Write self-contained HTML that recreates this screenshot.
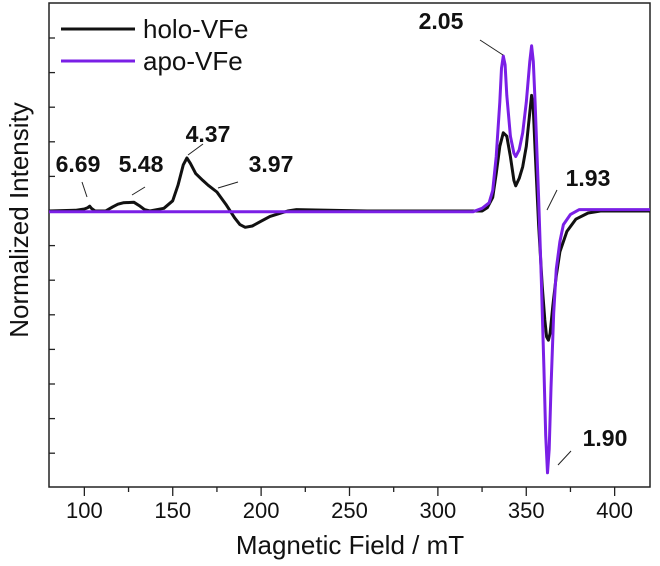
<!DOCTYPE html>
<html><head><meta charset="utf-8"><style>
body{margin:0;background:#fff;}
svg{display:block;font-family:"Liberation Sans",Arial,sans-serif;}
</style></head><body>
<svg id="chart" width="660" height="566">
<g id="axes"></g>
<g id="series"></g>
<g id="ann"></g>
</svg>
<script>
const xTicks=[100,150,200,250,300,350,400];
const holoB=[80,95,100,102,103,104,106,112,116,119,122,128,131,134,137,145,150,153,156,158,160,163,167,170,175,180,185,188,191,195,200,205,215,220,260,300,325,328,331,333,335,337,339,341,343,344,346,348,350,352,353,354,355,357,359,360.5,361.5,362.5,363.5,365,367,369,373,378,385,392,420];
const holoV=[0,0.01,0.03,0.05,0.07,0.04,0,0,0.06,0.1,0.12,0.13,0.08,0.02,0,0.04,0.15,0.38,0.68,0.78,0.7,0.55,0.45,0.38,0.28,0.1,-0.1,-0.2,-0.24,-0.22,-0.15,-0.08,0,0.02,0,0,0,0.05,0.2,0.55,0.95,1.15,1.1,0.8,0.45,0.37,0.48,0.65,0.95,1.45,1.7,1.5,0.9,-0.2,-1.1,-1.6,-1.85,-1.9,-1.8,-1.4,-0.95,-0.6,-0.3,-0.12,-0.03,0,0];
const apoB=[80,150,200,320,325,329,331,333,335,336,337,338,339,341,343,344,346,348,350,352,353,354,355,357,358.5,360,361,362,363,364,365.5,367,369,371,375,380,420];
const apoV=[-0.01,-0.01,-0.01,-0.01,0.04,0.12,0.3,0.8,1.6,2.1,2.28,2.15,1.7,1.1,0.85,0.8,0.9,1.15,1.6,2.2,2.43,2.2,1.6,0.2,-1.0,-2.3,-3.3,-3.85,-3.5,-2.6,-1.5,-0.85,-0.45,-0.2,-0.05,0.02,0.02];
const annLabels=["6.69","5.48","4.37","3.97","2.05","1.93","1.90"];
const NS="http://www.w3.org/2000/svg";
const L=49,R=650,T=3,B=487;
function xs(b){return L+(b-80)*(R-L)/340;}
function ys(v){return 211-v*68;}
function mk(tag,attrs,parent,name,text){const e=document.createElementNS(NS,tag);for(const k in attrs)e.setAttribute(k,attrs[k]);


if(text!==undefined)e.textContent=text;parent.appendChild(e);return e;}
const ax=document.getElementById('axes');
mk('rect',{x:L,y:T,width:R-L,height:B-T,fill:'none',stroke:'#222','stroke-width':1.5},ax,'plot-frame');
for(let b=100;b<=400;b+=25){const maj=xTicks.includes(b);mk('line',{x1:xs(b),x2:xs(b),y1:B,y2:B+(maj?9:5),stroke:'#222','stroke-width':1.3},ax,'x-tick');}
xTicks.forEach(t=>mk('text',{x:xs(t),y:518,'font-size':22,'text-anchor':'middle',fill:'#111'},ax,'x-tick-label',String(t)));
for(let k=-8;k<=6;k++){const y=211-34.6*k;if(y<T+2||y>B-2)continue;mk('line',{x1:L,x2:L+6,y1:y,y2:y,stroke:'#222','stroke-width':1.3},ax,'y-tick');}
mk('text',{x:350,y:554,'font-size':26,'text-anchor':'middle',fill:'#111'},ax,'x-axis-title','Magnetic Field / mT');
mk('text',{x:0,y:0,'font-size':26,'text-anchor':'middle',fill:'#111',transform:'translate(28,220) rotate(-90)'},ax,'y-axis-title','Normalized Intensity');
const se=document.getElementById('series');
function path(bs,vs,col,name){let d=bs.map((b,i)=>(i?'L':'M')+xs(b).toFixed(1)+','+ys(vs[i]).toFixed(1)).join('');mk('path',{d:d,fill:'none',stroke:col,'stroke-width':3,'stroke-linejoin':'round'},se,name);}
path(holoB,holoV,'#111','holo-vfe-line');
path(apoB,apoV,'#7a1fe6','apo-vfe-line');
mk('line',{x1:61,x2:135,y1:29,y2:29,stroke:'#111','stroke-width':3},ax,'legend-holo-swatch');
mk('text',{x:143,y:38,'font-size':26,fill:'#111'},ax,'legend-holo-label','holo-VFe');
mk('line',{x1:61,x2:135,y1:61,y2:61,stroke:'#7a1fe6','stroke-width':3},ax,'legend-apo-swatch');
mk('text',{x:143,y:70,'font-size':26,fill:'#111'},ax,'legend-apo-label','apo-VFe');
const an=document.getElementById('ann');
const annPos=[[78,172,82,182,87,197],[141,172,145,187,132,195],[208,142,203,144,188,155],[271,172,238,182,218,188],[441,29,480,40,503,55],[588,186,557,190,547,210],[605,446,571,451,558,465]];
annLabels.forEach((s,i)=>{const p=annPos[i];mk('text',{x:p[0],y:p[1],'font-size':23,'font-weight':'bold','text-anchor':'middle',fill:'#111'},an,'peak-label-'+s.replace('.','-'),s);
mk('line',{x1:p[2],y1:p[3],x2:p[4],y2:p[5],stroke:'#222','stroke-width':1},an,'peak-leader-'+s.replace('.','-'));});
</script>
</body></html>
